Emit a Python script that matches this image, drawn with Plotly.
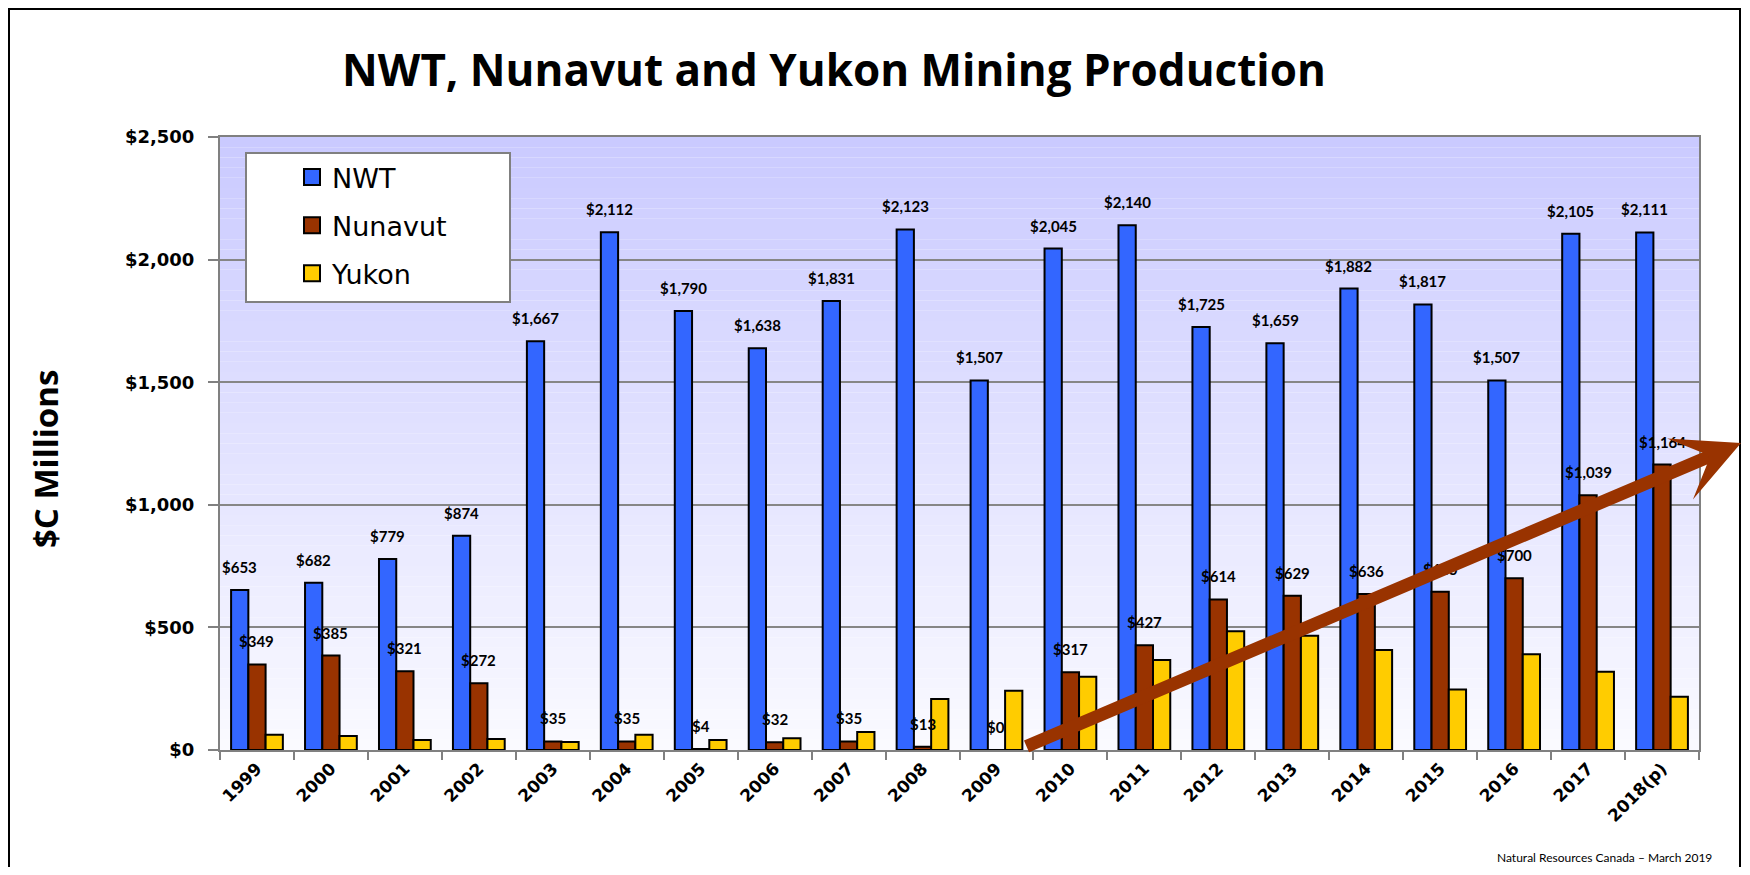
import plotly.graph_objects as go

years = ["1999", "2000", "2001", "2002", "2003", "2004", "2005", "2006", "2007", "2008",
         "2009", "2010", "2011", "2012", "2013", "2014", "2015", "2016", "2017", "2018(p)"]
nwt = [653, 682, 779, 874, 1667, 2112, 1790, 1638, 1831, 2123,
       1507, 2045, 2140, 1725, 1659, 1882, 1817, 1507, 2105, 2111]
nunavut = [349, 385, 321, 272, 35, 35, 4, 32, 35, 13,
           0, 317, 427, 614, 629, 636, 645, 700, 1039, 1164]
yukon = [62, 57, 41, 45, 33, 62, 41, 48, 73, 208,
         242, 299, 367, 484, 466, 408, 247, 391, 319, 217]

OFF = 8  # page body margin
W, H = 1750 - 2 * OFF, 875 - 2 * OFF
ML, PW, MT, PH = 220 - OFF, 1479, 137 - OFF, 613
MR = W - ML - PW
MB = H - MT - PH
BARGAP = 0.3
bw = PW / len(years) * (1 - BARGAP) / 3

def px_x(p):
    return (p - OFF - ML) / PW

def px_y(p):
    return (MT + PH - (p - OFF)) / PH

fig = go.Figure()
series = [("NWT", nwt, "#3366FF"), ("Nunavut", nunavut, "#993300"), ("Yukon", yukon, "#FFCC00")]
for name, vals, col in series:
    fig.add_trace(go.Bar(
        x=years, y=vals, name=name, legendgroup=name, showlegend=False,
        marker=dict(color=col, line=dict(color="black", width=2)),
    ))
for name, vals, col in series:
    fig.add_trace(go.Scatter(
        x=[None], y=[None], mode="markers", name=name, legendgroup=name,
        marker=dict(symbol="square", size=16, color=col, line=dict(color="black", width=2)),
    ))

shapes = []
N = 60
for i in range(N):
    t = i / (N - 1)
    r = int(round(250 + (202 - 250) * t))
    shapes.append(dict(type="rect", xref="paper", yref="paper",
                       x0=0, x1=1, y0=i / N, y1=(i + 1) / N,
                       fillcolor=f"rgb({r},{r},255)", line=dict(width=0), layer="below"))
shapes.append(dict(type="rect", xref="paper", yref="paper",
                   x0=px_x(246), x1=px_x(510), y0=px_y(302), y1=px_y(153),
                   fillcolor="white", line=dict(color="#808080", width=2), layer="above"))
fx0, fx1 = px_x(9), px_x(W + OFF - 2)
fy0, fy1 = px_y(H + OFF + 20), px_y(OFF + 1)
shapes.append(dict(type="path", xref="paper", yref="paper",
                   path=f"M{fx0},{fy0} L{fx0},{fy1} L{fx1},{fy1} L{fx1},{fy0}",
                   line=dict(color="black", width=2), layer="above"))

annotations = []
lab_font = dict(family="Lato", size=15, color="black", weight="bold")
for i, cat in enumerate(years):
    annotations.append(dict(x=i, y=nwt[i], xref="x", yref="y", text=f"${nwt[i]:,}",
                            showarrow=False, yanchor="bottom", xshift=-bw, yshift=12,
                            font=lab_font))
    annotations.append(dict(x=i, y=nunavut[i], xref="x", yref="y", text=f"${nunavut[i]:,}",
                            showarrow=False, yanchor="bottom", xshift=0, yshift=12,
                            font=lab_font))

annotations.append(dict(x=px_x(45), y=px_y(459), xref="paper", yref="paper", text="$C Millions",
                        textangle=-90, showarrow=False, xanchor="center", yanchor="middle",
                        font=dict(family="Open Sans", size=33, color="black", weight="bold")))
annotations.append(dict(x=px_x(1714), y=px_y(857), xref="paper", yref="paper",
                        text="Natural Resources Canada \u2013 March 2019", showarrow=False,
                        xanchor="right", yanchor="middle",
                        font=dict(family="Lato", size=12, color="black")))
annotations.append(dict(x=px_x(1754), y=px_y(443), xref="paper", yref="paper",
                        ax=1025 - 1754, ay=747 - 443, axref="pixel", ayref="pixel",
                        text="", showarrow=True, arrowhead=3, arrowsize=0.85, arrowwidth=13,
                        arrowcolor="#993300", standoff=0, startstandoff=0))

fig.update_layout(
    width=W, height=H,
    margin=dict(l=ML, r=MR, t=MT, b=MB),
    paper_bgcolor="white",
    plot_bgcolor="rgba(0,0,0,0)",
    barmode="group", bargap=BARGAP, bargroupgap=0,
    title=dict(text="NWT, Nunavut and Yukon Mining Production",
               x=(834 - OFF) / W, xanchor="center", y=1 - (71 - OFF) / H, yanchor="middle",
               yref="container",
               font=dict(family="Open Sans", size=44, color="black", weight="bold")),
    xaxis=dict(type="category", categoryorder="array", categoryarray=years,
               range=[-0.5, len(years) - 0.5], autorange=False,
               tickson="boundaries", ticks="outside", ticklen=8, tickcolor="#808080", tickwidth=2,
               showline=True, linecolor="#808080", linewidth=2, mirror=True,
               showgrid=False, tickangle=-45,
               tickfont=dict(family="DejaVu Sans", size=17, color="black", weight="bold")),
    yaxis=dict(range=[0, 2500], dtick=500, tickprefix="$", tickformat=",",
               ticks="outside", ticklen=10, tickcolor="#808080", tickwidth=2,
               ticklabelstandoff=10,
               showline=True, linecolor="#808080", linewidth=2, mirror=True,
               showgrid=True, gridcolor="#868686", gridwidth=2, zeroline=False,
               tickfont=dict(family="DejaVu Sans", size=18, color="black", weight="bold")),
    legend=dict(x=px_x(292), y=px_y(153), xanchor="left", yanchor="top",
                bgcolor="rgba(0,0,0,0)", borderwidth=0, traceorder="grouped", tracegroupgap=10,
                itemsizing="trace",
                font=dict(family="DejaVu Sans", size=27, color="black")),
    shapes=shapes,
    annotations=annotations,
)

fig.write_html("out.html")
